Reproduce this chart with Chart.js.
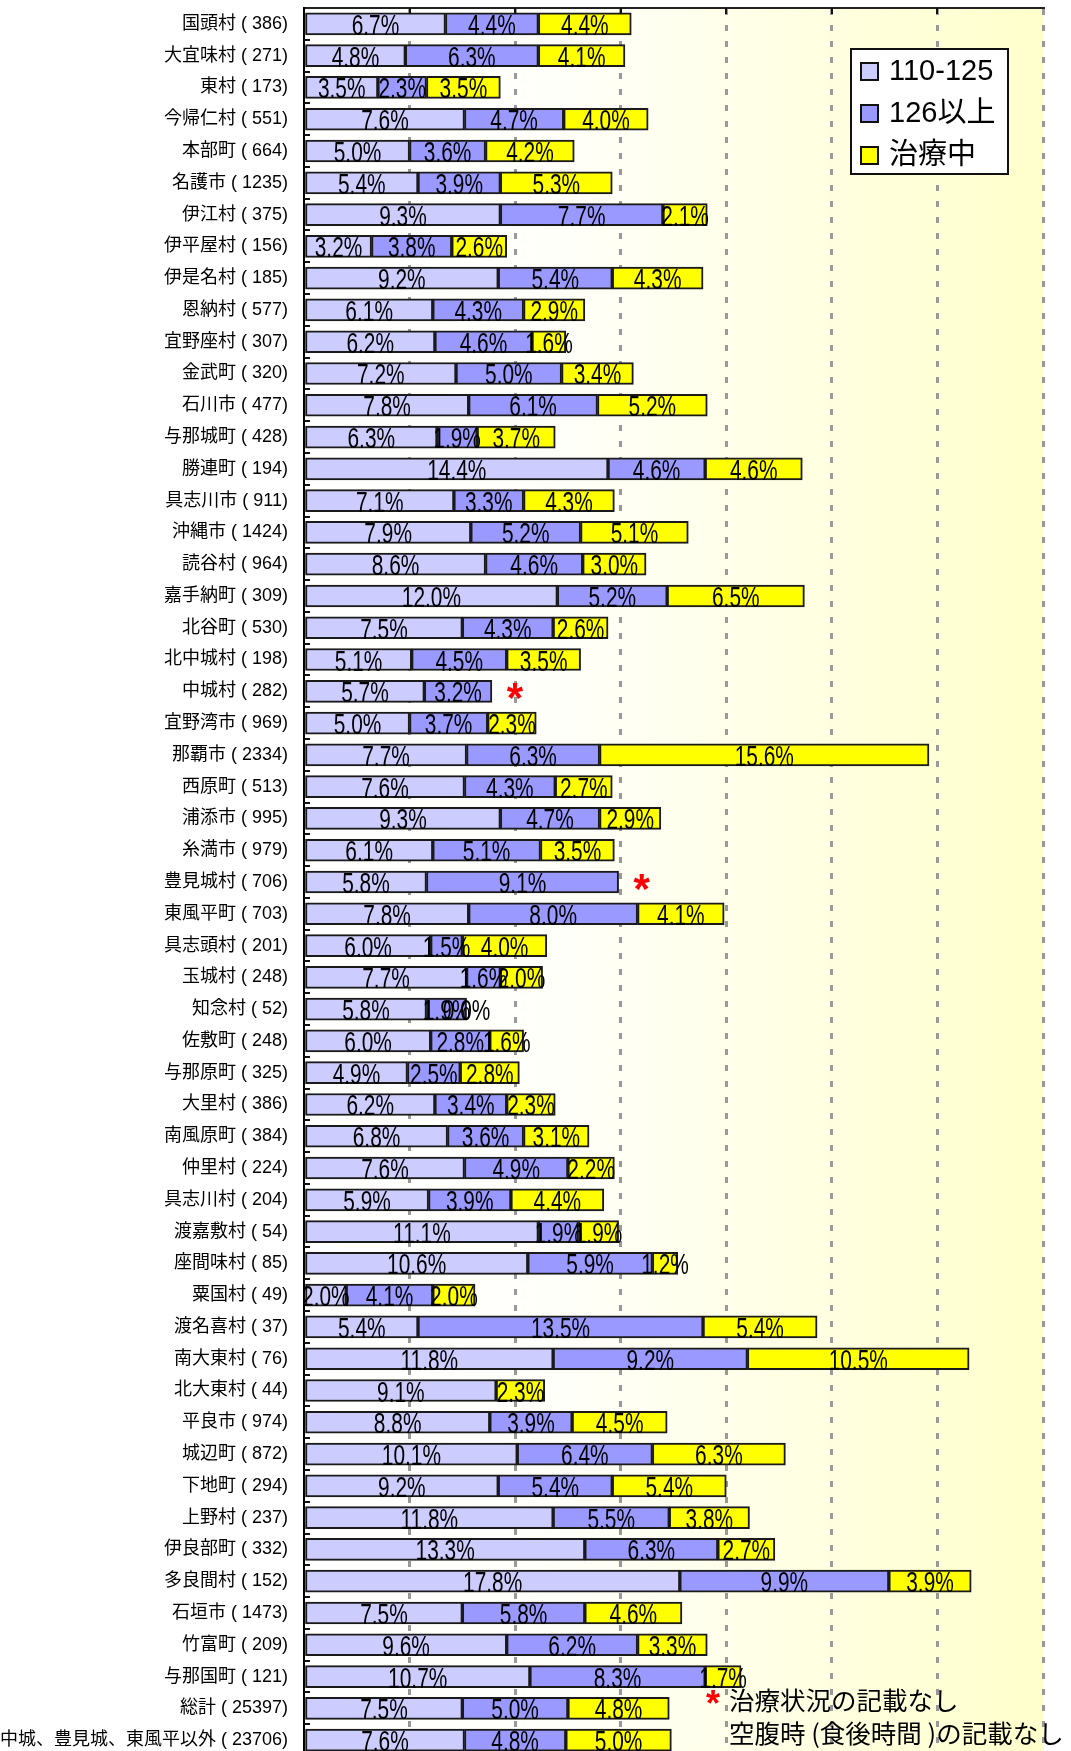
<!DOCTYPE html>
<html lang="ja">
<head>
<meta charset="utf-8">
<title>市町村別 血圧区分</title>
<script src="https://cdn.jsdelivr.net/npm/chart.js@4.4.0/dist/chart.umd.min.js"></script>
<style>
  html, body { margin: 0; padding: 0; background: #fff; overflow: hidden; }
  #wrap { width: 1071px; height: 1760px; }
</style>
</head>
<body>
<div id="wrap"><canvas id="bpChart" width="1071" height="1760"></canvas></div>
<script>
const towns = ['国頭村', '大宜味村', '東村', '今帰仁村', '本部町', '名護市', '伊江村', '伊平屋村', '伊是名村', '恩納村',
  '宜野座村', '金武町', '石川市', '与那城町', '勝連町', '具志川市', '沖縄市', '読谷村', '嘉手納町', '北谷町',
  '北中城村', '中城村', '宜野湾市', '那覇市', '西原町', '浦添市', '糸満市', '豊見城村', '東風平町', '具志頭村',
  '玉城村', '知念村', '佐敷町', '与那原町', '大里村', '南風原町', '仲里村', '具志川村', '渡嘉敷村', '座間味村',
  '粟国村', '渡名喜村', '南大東村', '北大東村', '平良市', '城辺町', '下地町', '上野村', '伊良部町', '多良間村',
  '石垣市', '竹富町', '与那国町', '総計', '中城、豊見城、東風平以外'];
const counts = [386, 271, 173, 551, 664, 1235, 375, 156, 185, 577,
  307, 320, 477, 428, 194, 911, 1424, 964, 309, 530,
  198, 282, 969, 2334, 513, 995, 979, 706, 703, 201,
  248, 52, 248, 325, 386, 384, 224, 204, 54, 85,
  49, 37, 76, 44, 974, 872, 294, 237, 332, 152,
  1473, 209, 121, 25397, 23706];

const range110to125 = [6.7, 4.8, 3.5, 7.6, 5.0, 5.4, 9.3, 3.2, 9.2, 6.1,
  6.2, 7.2, 7.8, 6.3, 14.4, 7.1, 7.9, 8.6, 12.0, 7.5,
  5.1, 5.7, 5.0, 7.7, 7.6, 9.3, 6.1, 5.8, 7.8, 6.0,
  7.7, 5.8, 6.0, 4.9, 6.2, 6.8, 7.6, 5.9, 11.1, 10.6,
  2.0, 5.4, 11.8, 9.1, 8.8, 10.1, 9.2, 11.8, 13.3, 17.8,
  7.5, 9.6, 10.7, 7.5, 7.6];
const over126 = [4.4, 6.3, 2.3, 4.7, 3.6, 3.9, 7.7, 3.8, 5.4, 4.3,
  4.6, 5.0, 6.1, 1.9, 4.6, 3.3, 5.2, 4.6, 5.2, 4.3,
  4.5, 3.2, 3.7, 6.3, 4.3, 4.7, 5.1, 9.1, 8.0, 1.5,
  1.6, 1.9, 2.8, 2.5, 3.4, 3.6, 4.9, 3.9, 1.9, 5.9,
  4.1, 13.5, 9.2, null, 3.9, 6.4, 5.4, 5.5, 6.3, 9.9,
  5.8, 6.2, 8.3, 5.0, 4.8];
const underTreatment = [4.4, 4.1, 3.5, 4.0, 4.2, 5.3, 2.1, 2.6, 4.3, 2.9,
  1.6, 3.4, 5.2, 3.7, 4.6, 4.3, 5.1, 3.0, 6.5, 2.6,
  3.5, null, 2.3, 15.6, 2.7, 2.9, 3.5, null, 4.1, 4.0,
  2.0, 0.0, 1.6, 2.8, 2.3, 3.1, 2.2, 4.4, 1.9, 1.2,
  2.0, 5.4, 10.5, 2.3, 4.5, 6.3, 5.4, 3.8, 2.7, 3.9,
  4.6, 3.3, 1.7, 4.8, 5.0];

// rows without treatment info get a red asterisk
const noTreatmentInfo = ['中城村', '豊見城村'];
const seriesNames = ['110-125', '126以上', '治療中'];
const notes = ['治療状況の記載なし', '空腹時 (食後時間 )の記載なし'];
const xMax = 35;
const xStep = 5;

const latinFont = "'Liberation Sans', 'Noto Sans CJK JP', sans-serif";
const cjkFont = "'Noto Sans CJK JP', sans-serif";

function drawMark(ctx, cx, cy, size) {
  ctx.save();
  ctx.font = `bold ${size}px ${latinFont}`;
  ctx.fillStyle = '#ff0000';
  ctx.textAlign = 'center';
  ctx.textBaseline = 'alphabetic';
  const m = ctx.measureText('*');
  ctx.fillText('*', cx, cy + (m.actualBoundingBoxAscent - m.actualBoundingBoxDescent) / 2);
  ctx.restore();
}

const plotBackground = {
  id: 'plotBackground',
  beforeDraw(chart) {
    const { ctx, chartArea: a } = chart;
    const g = ctx.createLinearGradient(a.left, 0, a.right, 0);
    g.addColorStop(0, '#ffffff');
    g.addColorStop(0.35, '#fffffa');
    g.addColorStop(1, '#ffffcc');
    ctx.save();
    ctx.fillStyle = g;
    ctx.fillRect(a.left, a.top, a.right - a.left, a.bottom - a.top);
    ctx.restore();
  }
};

const axisTicks = {
  id: 'axisTicks',
  afterDatasetsDraw(chart) {
    const { ctx, chartArea: a, scales: { x, y } } = chart;
    ctx.save();
    ctx.strokeStyle = '#111';
    ctx.lineWidth = 2;
    ctx.beginPath();
    for (let v = xStep; v < xMax; v += xStep) {
      const px = Math.round(x.getPixelForValue(v));
      ctx.moveTo(px, a.top);
      ctx.lineTo(px, a.top + 6);
    }
    const pitch = y.getPixelForValue(1) - y.getPixelForValue(0);
    for (let i = 1; i < towns.length; i++) {
      const py = Math.round(y.getPixelForValue(i) - pitch / 2);
      ctx.moveTo(a.left, py);
      ctx.lineTo(a.left + 6, py);
    }
    ctx.stroke();
    ctx.restore();
  }
};

const valueLabels = {
  id: 'valueLabels',
  afterDatasetsDraw(chart) {
    const ctx = chart.ctx;
    ctx.save();
    ctx.font = `29px ${latinFont}`;
    ctx.fillStyle = '#000';
    ctx.textAlign = 'center';
    ctx.textBaseline = 'alphabetic';
    chart.data.datasets.forEach((ds, di) => {
      chart.getDatasetMeta(di).data.forEach((bar, i) => {
        const v = ds.data[i];
        if (v === null) return;
        ctx.save();
        ctx.translate((bar.x + bar.base) / 2, bar.y + 11);
        ctx.scale(0.72, 1);
        ctx.fillText(v.toFixed(1) + '%', 0, 0);
        ctx.restore();
      });
    });
    ctx.restore();

    noTreatmentInfo.forEach(name => {
      const i = towns.indexOf(name);
      let end = 0, cy = 0;
      chart.data.datasets.forEach((ds, di) => {
        const bar = chart.getDatasetMeta(di).data[i];
        if (ds.data[i] !== null && bar.x > end) end = bar.x;
        cy = bar.y;
      });
      drawMark(ctx, end + 23, cy, 42);
    });
  }
};

const boxLegend = {
  id: 'boxLegend',
  afterDraw(chart) {
    const ctx = chart.ctx;
    const left = 851, top = 49, w = 157, h = 125;
    ctx.save();
    ctx.fillStyle = '#fff';
    ctx.fillRect(left, top, w, h);
    ctx.strokeStyle = '#111';
    ctx.lineWidth = 2;
    ctx.strokeRect(left, top, w, h);
    ctx.font = `29px ${latinFont}`;
    ctx.textBaseline = 'middle';
    chart.data.datasets.forEach((ds, i) => {
      const cy = top + 22 + i * 42;
      ctx.fillStyle = ds.backgroundColor;
      ctx.fillRect(left + 10, cy - 8, 17, 17);
      ctx.strokeRect(left + 10, cy - 8, 17, 17);
      ctx.fillStyle = '#000';
      ctx.fillText(ds.label, left + 38, cy + 1);
    });
    ctx.restore();
  }
};

const footNotes = {
  id: 'footNotes',
  afterDraw(chart) {
    const ctx = chart.ctx;
    drawMark(ctx, 713, 1697, 36);
    ctx.save();
    ctx.font = `25.5px ${cjkFont}`;
    ctx.fillStyle = '#000';
    ctx.textBaseline = 'middle';
    ctx.fillText(notes[0], 729, 1700);
    ctx.fillText(notes[1], 729, 1733);
    ctx.restore();
  }
};

const colors = ['#ccccff', '#9999ff', '#ffff00'];
const values = [range110to125, over126, underTreatment];

let bpChart = new Chart(document.getElementById('bpChart').getContext('2d'), {
  type: 'bar',
  data: {
    labels: towns.map((t, i) => `${t} ( ${counts[i]})`),
    datasets: seriesNames.map((name, k) => ({
      label: name,
      data: values[k],
      backgroundColor: colors[k],
      borderColor: '#1a1a1a',
      borderWidth: 2,
      borderSkipped: false,
      barThickness: 22
    }))
  },
  options: {
    indexAxis: 'y',
    responsive: false,
    animation: false,
    events: [],
    layout: {
      padding: { left: 0, right: 28, top: 8, bottom: 4 }
    },
    plugins: {
      legend: { display: false },
      tooltip: { enabled: false }
    },
    scales: {
      x: {
        position: 'top',
        stacked: true,
        min: 0,
        max: xMax,
        ticks: { display: false, stepSize: xStep },
        grid: {
          color: ctx => (ctx.tick && ctx.tick.value === 0) ? 'rgba(0,0,0,0)' : '#999999',
          lineWidth: 3,
          drawTicks: false
        },
        border: { display: true, color: '#222', width: 2, dash: [6, 10] },
        afterFit: s => { s.height = 0; s.paddingLeft = 0; s.paddingRight = 0; }
      },
      y: {
        stacked: true,
        ticks: {
          color: '#000',
          padding: 16,
          autoSkip: false,
          font: { family: latinFont, size: 18 }
        },
        grid: { display: false, drawTicks: false },
        border: { display: true, color: '#000', width: 2 },
        afterFit: s => { s.width = 304; s.paddingTop = 0; s.paddingBottom = 0; }
      }
    }
  },
  plugins: [plotBackground, valueLabels, axisTicks, boxLegend, footNotes]
});
</script>
</body>
</html>
